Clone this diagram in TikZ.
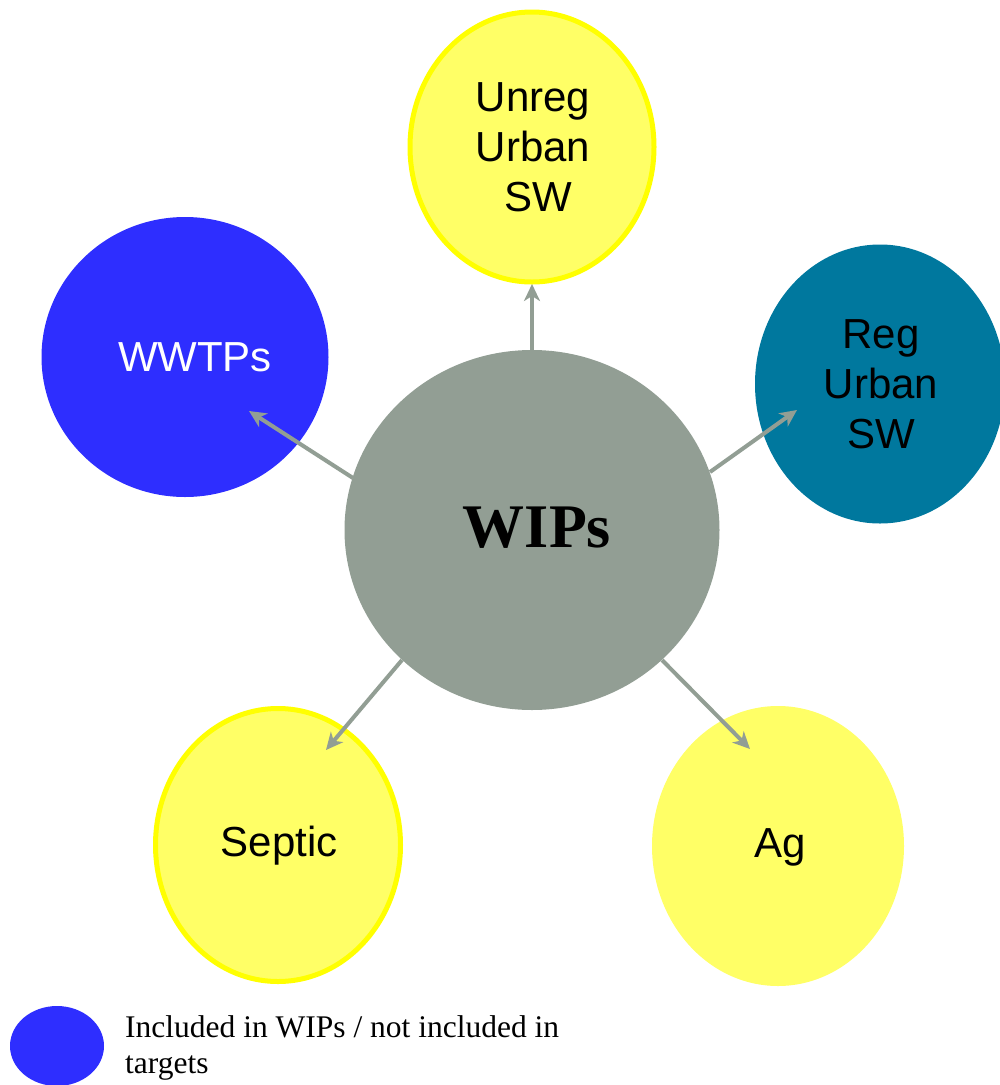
\documentclass[tikz,border=0pt]{standalone}
\usepackage{fontspec}
\setmainfont{Liberation Serif}
\newfontfamily\labelsans{Liberation Sans}
\usetikzlibrary{arrows.meta}
\definecolor{wipgray}{RGB}{146,158,148}
\definecolor{wwblue}{RGB}{46,46,255}
\definecolor{regteal}{RGB}{0,120,158}
\definecolor{yfill}{RGB}{255,255,102}
\definecolor{yline}{RGB}{255,255,0}
\tikzset{
  blob/.style={ellipse, inner sep=0pt, draw=none},
  yborder/.style={blob, fill=yfill, draw=yline, line width=5pt},
  lbl/.style={font=\labelsans\fontsize{42}{50}\selectfont, align=center, inner sep=0pt, text=black},
  conn/.style={draw=wipgray, line width=4pt, -{Stealth[length=17pt,width=16pt,inset=5pt]}},
}
\usetikzlibrary{shapes.geometric}
\begin{document}
\begin{tikzpicture}[x=1pt,y=-1pt]
\useasboundingbox (0,0) rectangle (1000,1085);
% ellipses
\node[blob, fill=wipgray, minimum width=375pt, minimum height=360pt] (wip) at (532,530) {};
\node[yborder, minimum width=244pt, minimum height=270pt] (unreg) at (532,147) {};
\node[blob, fill=wwblue, minimum width=287pt, minimum height=280pt] (wwtp) at (185,357) {};
\node[blob, fill=regteal, minimum width=250pt, minimum height=279pt] (reg) at (880,384) {};
\node[yborder, minimum width=245pt, minimum height=273pt] (septic) at (278,845) {};
\node[blob, fill=yfill, minimum width=252pt, minimum height=280pt] (ag) at (778,846) {};
\node[blob, fill=wwblue, minimum width=94pt, minimum height=80pt] (legdot) at (57,1046) {};
% labels
\node[lbl] (unregl) at (533,147) {Unreg\\Urban\\\hspace*{10pt}SW};
\node[lbl, text=white] (wwtpl) at (195,357) {WWTPs};
\node[lbl] (regl) at (881,384) {Reg\\Urban\\SW};
\node[lbl] (septicl) at (279,846) {Septic};
\node[lbl] (agl) at (780,847) {Ag};
\node[font=\bfseries\fontsize{62}{70}\selectfont, inner sep=0pt, anchor=base] (wipl) at (537,547) {WIPs};
% legend text
\node[font=\fontsize{31.5}{36}\selectfont, inner sep=0pt, anchor=base west] (leg1) at (125,1037) {Included in WIPs / not included in};
\node[font=\fontsize{31.5}{36}\selectfont, inner sep=0pt, anchor=base west] (leg2) at (125,1073) {targets};
% connector end points
\coordinate (s1) at (532,351);
\coordinate (e1) at (532,284);
\coordinate (s2) at (353,478);
\coordinate (e2) at (249,411);
\coordinate (s3) at (710,472);
\coordinate (e3) at (797,410);
\coordinate (s4) at (402,660);
\coordinate (e4) at (326,750);
\coordinate (s5) at (662,660);
\coordinate (e5) at (750,749);
\draw[conn] (s1) -- (e1);
\draw[conn] (s2) -- (e2);
\draw[conn] (s3) -- (e3);
\draw[conn] (s4) -- (e4);
\draw[conn] (s5) -- (e5);
\end{tikzpicture}
\end{document}
